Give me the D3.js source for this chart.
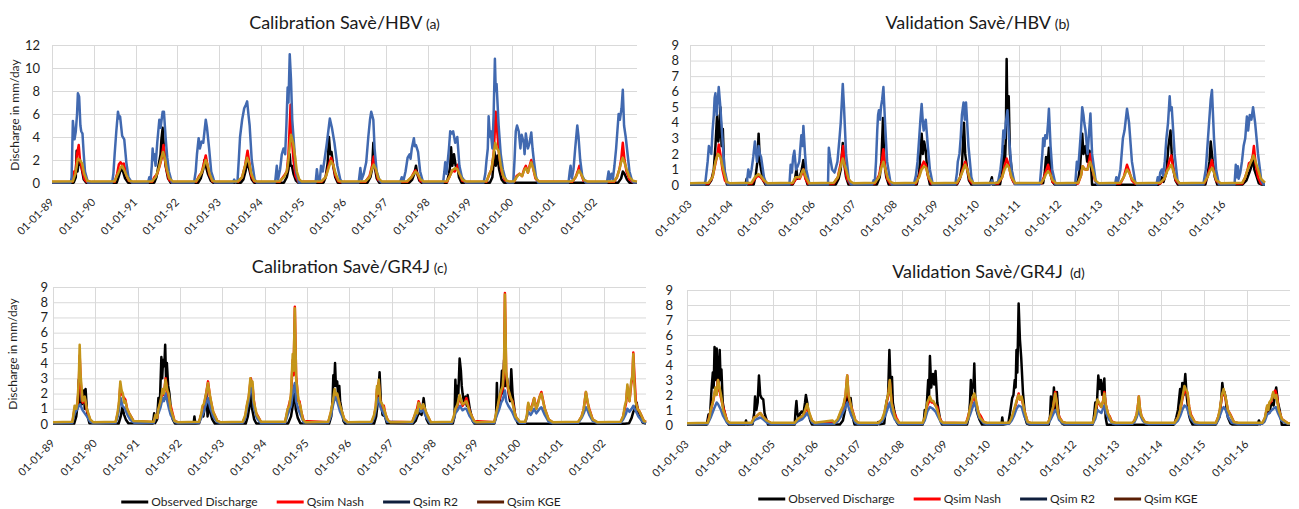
<!DOCTYPE html>
<html>
<head>
<meta charset="utf-8">
<script src="https://cdn.jsdelivr.net/npm/d3@7"></script>
<style>
  body { margin: 0; background: #fff; }
  svg text { font-family: Lato, "Open Sans", sans-serif; }
</style>
</head>
<body>
<svg id="chart" width="1299" height="509"></svg>
<script>
// ---------------- data (t = years since start of period, value in mm/day) ----------------
const calStart = 1989;
const valStart = 2003;
const calYears = [1989, 1990, 1991, 1992, 1993, 1994, 1995, 1996, 1997, 1998, 1999, 2000, 2001, 2002];
const valYears = [2003, 2004, 2005, 2006, 2007, 2008, 2009, 2010, 2011, 2012, 2013, 2014, 2015, 2016];
const seriesNames = ["Observed Discharge", "Qsim Nash", "Qsim R2", "Qsim KGE"];

// (a) HBV calibration
const hbvCalObs = [[0,.03],
[0.52,.03],[0.57,.5],[0.59,2.8],[0.61,1],[0.64,1.8],[0.70,1.5],[0.76,.3],[0.82,.03],
[1.55,.03],[1.60,.6],[1.65,1.2],[1.70,1],[1.75,.4],[1.82,.03],
[2.45,.03],[2.50,.5],[2.55,1.5],[2.60,2.5],[2.62,3.8],[2.65,4.8],[2.68,3],[2.72,1.5],[2.78,.4],[2.84,.03],
[3.50,.03],[3.56,.4],[3.62,1.2],[3.65,2],[3.68,1.5],[3.73,.8],[3.80,.2],[3.86,.03],
[4.52,.03],[4.58,.3],[4.63,1],[4.68,2],[4.72,1.2],[4.78,.3],[4.84,.03],
[5.55,.03],[5.62,.5],[5.66,1.2],[5.69,2.5],[5.71,1.5],[5.74,1.5],[5.78,.8],[5.84,.2],[5.89,.03],
[6.50,.03],[6.55,.5],[6.60,1.8],[6.63,4],[6.66,2.5],[6.69,2.7],[6.73,1.5],[6.78,.5],[6.84,.03],
[7.55,.03],[7.62,.5],[7.66,1.2],[7.69,3.5],[7.72,1.5],[7.77,.4],[7.83,.03],
[8.55,.03],[8.62,.3],[8.67,.8],[8.71,1.5],[8.74,.8],[8.79,.2],[8.84,.03],
[9.45,.03],[9.50,.8],[9.53,1.5],[9.55,3.1],[9.58,1.5],[9.62,2.5],[9.66,1.5],[9.70,1.5],[9.74,.5],[9.80,.03],
[10.48,.03],[10.54,.5],[10.59,2.7],[10.62,1.5],[10.66,2.4],[10.70,1.2],[10.76,.3],[10.82,.03],
[13.55,.03],[13.62,.4],[13.66,1],[13.70,.8],[13.76,.3],[13.82,.03],[14,.03]];

const hbvCalNash = [[0,.08],
[0.48,.1],[0.53,1],[0.56,.8],[0.60,2.5],[0.64,3.3],[0.67,2],[0.72,1.2],[0.78,.3],[0.84,.08],
[1.50,.1],[1.56,.8],[1.60,1.6],[1.64,1.8],[1.68,1.6],[1.72,1.7],[1.77,.8],[1.84,.2],[1.92,.08],
[2.40,.1],[2.45,.5],[2.52,.8],[2.58,1.5],[2.63,2.2],[2.67,3.3],[2.70,2.2],[2.74,1.2],[2.80,.3],[2.87,.08],
[3.45,.1],[3.52,.6],[3.58,.9],[3.63,1.6],[3.68,2.4],[3.72,1.6],[3.77,.7],[3.84,.15],[3.90,.08],
[4.45,.1],[4.55,.5],[4.62,1.5],[4.68,2.8],[4.72,1.8],[4.77,.6],[4.84,.15],[4.90,.08],
[5.45,.1],[5.55,.6],[5.62,1],[5.66,2.5],[5.71,6.8],[5.74,4],[5.78,2],[5.83,.6],[5.90,.1],
[6.45,.1],[6.55,.5],[6.62,1.5],[6.68,2.2],[6.73,1.6],[6.78,.7],[6.85,.15],[6.92,.08],
[7.50,.1],[7.60,.6],[7.66,1.5],[7.70,2.3],[7.74,1.3],[7.80,.3],[7.88,.08],
[8.50,.1],[8.60,.5],[8.66,.9],[8.70,1.1],[8.75,.8],[8.81,.2],[8.88,.08],
[9.45,.1],[9.52,.6],[9.58,1.1],[9.64,1],[9.68,1.3],[9.72,1.6],[9.76,.8],[9.82,.2],[9.90,.08],
[10.40,.1],[10.47,.8],[10.52,1.2],[10.57,2.5],[10.62,6.2],[10.66,4.3],[10.70,2.5],[10.76,1],[10.83,.3],[10.90,.08],
[11.06,.1],[11.12,.6],[11.19,.8],[11.25,.6],[11.30,1.2],[11.34,1.5],[11.39,.9],[11.43,1.5],[11.47,2],[11.52,1.2],[11.57,.4],[11.64,.1],
[12.45,.1],[12.53,.5],[12.58,1],[12.62,1.5],[12.66,.8],[12.72,.2],[12.80,.08],
[13.45,.1],[13.52,.5],[13.58,1.2],[13.62,2],[13.66,3.5],[13.70,2],[13.75,1],[13.82,.3],[13.90,.08],[14,.08]];

const hbvCalR2 = [[0,.05],
[0.45,.05],[0.47,.5],[0.50,5.4],[0.54,3.8],[0.57,4.5],[0.60,6],[0.62,7.8],[0.65,7.5],[0.68,5],[0.70,4.5],[0.73,4.3],[0.76,2.5],[0.79,1],[0.86,.05],
[1.44,.05],[1.47,.8],[1.50,2.5],[1.54,4.5],[1.58,6.2],[1.61,5.6],[1.63,5.8],[1.68,4.1],[1.73,3.8],[1.78,1.8],[1.83,.5],[1.91,.05],
[2.30,.05],[2.33,.5],[2.36,.2],[2.39,1.5],[2.41,3],[2.43,2],[2.45,2.5],[2.48,1.5],[2.52,3.5],[2.57,5.5],[2.60,4.8],[2.65,6.2],[2.68,6.2],[2.72,4],[2.76,2.2],[2.80,1],[2.87,.05],
[3.40,.05],[3.44,1],[3.47,2.5],[3.49,3.2],[3.51,3.9],[3.54,3],[3.58,3.6],[3.62,3.5],[3.65,4.5],[3.68,5.5],[3.71,4.8],[3.76,3],[3.81,1],[3.89,.05],
[4.33,.05],[4.36,.3],[4.39,.05],[4.44,.2],[4.47,2],[4.50,4],[4.55,5.5],[4.60,6.5],[4.64,6.8],[4.67,7.1],[4.70,6],[4.73,5],[4.78,2],[4.85,.3],[4.90,.05],
[5.34,.05],[5.38,1.5],[5.41,.3],[5.46,1.2],[5.50,2.5],[5.54,3],[5.58,2.5],[5.61,5],[5.64,8.3],[5.66,7],[5.69,11.2],[5.72,9],[5.75,5.5],[5.79,3.5],[5.84,1],[5.91,.05],
[6.31,.05],[6.34,1.2],[6.37,.3],[6.41,.2],[6.44,1.5],[6.48,1],[6.53,2.2],[6.58,3.5],[6.63,5],[6.65,5.6],[6.70,4.8],[6.76,3.5],[6.83,1.5],[6.90,.3],[6.95,.05],
[7.34,.05],[7.38,1.3],[7.41,.3],[7.46,.8],[7.52,1.8],[7.57,4],[7.61,5.5],[7.64,6.2],[7.69,5.5],[7.72,3],[7.77,1],[7.84,.2],[7.88,.05],
[8.33,.05],[8.37,.5],[8.41,.2],[8.46,1],[8.51,2.2],[8.56,2.5],[8.58,2.1],[8.61,3],[8.66,3.9],[8.68,3.2],[8.71,3.3],[8.76,2.7],[8.81,1],[8.88,.05],
[9.36,.05],[9.39,1],[9.41,1.8],[9.44,.8],[9.46,1.5],[9.50,3],[9.53,4.5],[9.57,4.3],[9.60,4.5],[9.65,3.5],[9.70,4],[9.75,1.5],[9.81,.5],[9.90,.05],
[10.33,.05],[10.37,.8],[10.40,2],[10.43,3],[10.45,5.8],[10.48,4],[10.50,4.5],[10.54,3],[10.57,6],[10.60,10.8],[10.62,8],[10.64,8.6],[10.69,5],[10.74,2.5],[10.79,1.2],[10.84,.5],[10.90,.05],
[11.04,.05],[11.07,2],[11.10,4.5],[11.13,5],[11.17,4.5],[11.21,3],[11.24,4.2],[11.29,3.5],[11.31,2.5],[11.34,4.3],[11.39,3],[11.43,3.5],[11.47,4.4],[11.50,3],[11.53,2],[11.58,.6],[11.63,.05],
[12.36,.05],[12.39,1],[12.41,1.5],[12.44,.4],[12.48,1.2],[12.52,3],[12.55,4.2],[12.57,5],[12.60,4],[12.64,2],[12.69,.6],[12.77,.05],
[13.28,.05],[13.32,1],[13.35,.3],[13.39,.8],[13.42,.3],[13.46,1.5],[13.50,3],[13.53,4.5],[13.56,6],[13.59,5.5],[13.63,6.5],[13.66,8.1],[13.69,5],[13.73,4],[13.76,3],[13.82,1],[13.88,.2],[13.92,.05],[14,.05]];

const hbvCalKge = [[0,.12],
[0.50,.15],[0.56,.8],[0.62,2.1],[0.67,2],[0.72,1.7],[0.77,.8],[0.84,.2],[0.95,.12],
[1.50,.15],[1.58,.8],[1.65,1.4],[1.68,1.5],[1.73,1.1],[1.78,.7],[1.85,.2],[1.95,.12],
[2.40,.15],[2.48,.5],[2.55,1.2],[2.62,2.2],[2.66,2.7],[2.70,2.2],[2.75,1.2],[2.81,.4],[2.90,.12],
[3.45,.15],[3.52,.5],[3.58,.9],[3.63,1.4],[3.68,2],[3.72,1.6],[3.77,.8],[3.84,.2],[3.93,.12],
[4.45,.15],[4.55,.5],[4.62,1.5],[4.67,2.2],[4.72,1.7],[4.77,.8],[4.84,.2],[4.93,.12],
[5.45,.15],[5.55,.5],[5.62,1],[5.66,2],[5.69,3.2],[5.72,4.2],[5.77,3.5],[5.81,2.5],[5.86,1],[5.92,.3],[5.98,.12],
[6.45,.15],[6.55,.5],[6.62,1.3],[6.68,1.9],[6.73,1.6],[6.79,.8],[6.86,.2],[6.95,.12],
[7.50,.15],[7.60,.5],[7.66,1.3],[7.70,1.6],[7.75,1.2],[7.81,.4],[7.90,.12],
[8.50,.15],[8.60,.5],[8.66,.8],[8.70,1],[8.75,.8],[8.82,.3],[8.90,.12],
[9.45,.15],[9.52,.6],[9.58,1.1],[9.65,1.3],[9.70,1.2],[9.75,.8],[9.82,.3],[9.92,.12],
[10.40,.15],[10.47,.8],[10.52,1.2],[10.57,2.5],[10.61,3.5],[10.65,3],[10.69,2.8],[10.74,1.5],[10.80,.6],[10.88,.2],[10.96,.12],
[11.06,.15],[11.12,.5],[11.19,.8],[11.25,.6],[11.30,1.1],[11.34,1.3],[11.39,.9],[11.43,1.4],[11.47,1.8],[11.52,1.2],[11.58,.4],[11.66,.12],
[12.45,.15],[12.53,.5],[12.58,.9],[12.61,1.1],[12.66,.8],[12.72,.3],[12.82,.12],
[13.45,.15],[13.52,.5],[13.58,1.2],[13.62,1.8],[13.66,2.2],[13.70,1.8],[13.75,1.2],[13.82,.5],[13.90,.2],[14,.12]];

// (b) HBV validation
const hbvValObs = [[0,.03],
[0.45,.03],[0.52,.3],[0.58,1],[0.62,2.5],[0.66,4.5],[0.69,2.8],[0.72,3.5],[0.74,5],[0.77,2.5],[0.80,3.6],[0.83,1.2],[0.86,.5],[0.90,.03],
[1.35,.03],[1.38,.4],[1.40,.03],[1.55,.03],[1.60,.6],[1.64,1.5],[1.67,3.3],[1.70,1.5],[1.73,1],[1.78,.3],[1.84,.03],
[2.50,.03],[2.55,.3],[2.59,1],[2.62,.4],[2.67,.5],[2.72,1],[2.76,1.6],[2.80,.6],[2.86,.03],
[3.55,.03],[3.62,.4],[3.67,1],[3.72,2.7],[3.75,1.5],[3.80,.5],[3.86,.03],
[4.55,.03],[4.62,.5],[4.66,1.5],[4.70,4.3],[4.73,1.5],[4.78,.5],[4.84,.03],
[5.52,.03],[5.58,.8],[5.61,2],[5.64,3.3],[5.67,2],[5.70,2.8],[5.74,2.2],[5.78,.8],[5.84,.03],
[6.50,.03],[6.57,.4],[6.62,1.2],[6.67,4],[6.70,2],[6.74,1.2],[6.79,.3],[6.85,.03],
[7.30,.03],[7.35,.5],[7.37,.03],[7.55,.05],[7.60,.8],[7.64,2.5],[7.67,1.5],[7.69,3],[7.71,8.1],[7.73,4],[7.76,5.7],[7.79,2],[7.86,.3],[7.90,.12],
[8.60,.12],[8.64,.8],[8.67,1.8],[8.70,1],[8.74,2.4],[8.78,.7],[8.83,.2],[8.88,.03],
[9.40,.03],[9.45,.3],[9.50,1.2],[9.55,3.3],[9.58,2],[9.63,2.5],[9.67,1.5],[9.73,2.2],[9.77,1],[9.79,.02],
[11.40,.02],[11.45,.1],[11.49,.5],[11.53,.2],[11.60,.8],[11.65,2.5],[11.70,3.5],[11.73,2],[11.77,1],[11.82,.3],[11.88,.03],
[12.55,.03],[12.60,.6],[12.65,1.5],[12.68,2.8],[12.71,2],[12.73,1.5],[12.78,.5],[12.84,.03],
[13.45,.03],[13.55,.3],[13.62,.8],[13.67,1.2],[13.71,1.9],[13.74,1],[13.79,.6],[13.85,.1],[13.92,.03],[14,.03]];

const hbvValNash = [[0,.08],
[0.45,.1],[0.55,.5],[0.62,1.4],[0.67,2],[0.70,2.6],[0.74,2],[0.79,1],[0.85,.3],[0.92,.08],
[1.50,.1],[1.58,.4],[1.65,.6],[1.72,.5],[1.78,.3],[1.86,.08],
[2.50,.1],[2.56,.3],[2.62,.5],[2.67,.4],[2.72,.7],[2.76,1],[2.81,.4],[2.88,.08],
[3.50,.1],[3.60,.5],[3.67,1.4],[3.73,2.5],[3.77,1.2],[3.82,.4],[3.90,.08],
[4.50,.1],[4.60,.6],[4.66,1.3],[4.71,2.3],[4.75,1.2],[4.80,.4],[4.88,.08],
[5.50,.1],[5.58,.6],[5.64,1.2],[5.69,1.5],[5.74,1.3],[5.80,.5],[5.88,.08],
[6.50,.1],[6.58,.5],[6.64,1],[6.70,1.5],[6.75,1],[6.81,.3],[6.88,.08],
[7.50,.1],[7.60,.5],[7.66,1.2],[7.71,1.7],[7.76,1.3],[7.82,.5],[7.90,.08],
[8.55,.1],[8.62,.5],[8.67,.9],[8.72,1.3],[8.77,.8],[8.83,.2],[8.90,.08],
[9.45,.1],[9.52,.6],[9.56,1.2],[9.62,1],[9.68,1],[9.75,2],[9.80,1],[9.86,.3],[9.92,.08],
[10.48,.1],[10.56,.5],[10.61,1],[10.64,1.3],[10.69,.9],[10.76,.3],[10.84,.08],
[11.45,.1],[11.55,.4],[11.62,1],[11.67,1.5],[11.72,1.9],[11.77,1],[11.83,.3],[11.90,.08],
[12.52,.1],[12.60,.5],[12.66,1.1],[12.71,1.6],[12.75,1],[12.81,.3],[12.88,.08],
[13.45,.1],[13.52,.5],[13.58,1],[13.61,1.4],[13.66,1.5],[13.70,1.8],[13.73,2.5],[13.77,1.4],[13.83,.5],[13.90,.1],[14,.08]];

const hbvValR2 = [[0,.05],
[0.35,.05],[0.38,.3],[0.43,1.5],[0.46,2.5],[0.48,2.3],[0.52,2],[0.55,3.5],[0.58,4.5],[0.60,5.6],[0.62,5.9],[0.65,4.5],[0.68,5.5],[0.70,6.3],[0.74,5],[0.79,3],[0.84,1],[0.92,.05],
[1.38,.05],[1.42,1],[1.46,.5],[1.50,1],[1.54,1.8],[1.58,2.8],[1.63,1.5],[1.67,2.5],[1.70,2],[1.73,1.8],[1.80,.5],[1.86,.05],
[2.42,.05],[2.45,1.3],[2.48,.8],[2.51,1.8],[2.54,2.2],[2.58,1],[2.62,1.2],[2.66,1.5],[2.71,3.2],[2.74,2.5],[2.76,3.8],[2.80,2],[2.83,1],[2.91,.05],
[3.36,.05],[3.38,2.4],[3.41,1.8],[3.43,1.5],[3.46,1],[3.52,.8],[3.56,1.2],[3.59,1.5],[3.64,3],[3.67,4],[3.70,5.5],[3.72,6.5],[3.75,5],[3.80,2],[3.87,.3],[3.92,.05],
[4.44,.05],[4.47,.3],[4.50,.2],[4.53,1.5],[4.56,3.5],[4.58,4.5],[4.60,4.8],[4.63,4.2],[4.65,5],[4.68,5.5],[4.71,6.3],[4.75,4],[4.80,1.5],[4.88,.2],[4.92,.05],
[5.45,.05],[5.50,.6],[5.54,1.5],[5.58,3],[5.61,4.2],[5.64,5.2],[5.67,4],[5.69,3.5],[5.72,4],[5.74,4.2],[5.79,2.5],[5.84,1],[5.91,.05],
[6.46,.05],[6.50,.8],[6.52,1.5],[6.56,2],[6.59,3],[6.62,4.5],[6.66,5.3],[6.69,4.2],[6.72,5.3],[6.78,2.5],[6.85,.5],[6.90,.05],
[7.32,.05],[7.35,.3],[7.38,.05],[7.50,.2],[7.56,1],[7.60,2],[7.63,3.5],[7.66,3],[7.69,4],[7.73,4.8],[7.77,3],[7.83,1],[7.91,.05],
[8.52,.05],[8.55,1],[8.58,2],[8.60,3],[8.63,2.5],[8.65,3.2],[8.69,3],[8.72,4],[8.74,4.9],[8.78,2.5],[8.82,1],[8.90,.05],
[9.38,.05],[9.42,1.5],[9.45,1],[9.48,2],[9.52,3.5],[9.55,5],[9.58,4.5],[9.60,4],[9.63,3.5],[9.68,2],[9.72,3.5],[9.75,4.6],[9.79,2],[9.88,.2],[9.92,.05],
[10.35,.05],[10.38,.5],[10.42,.2],[10.48,1],[10.54,3],[10.58,3.5],[10.61,4.2],[10.64,4.9],[10.69,4],[10.76,1.5],[10.84,.2],[10.88,.05],
[11.36,.05],[11.39,.5],[11.42,.2],[11.45,.8],[11.49,1],[11.52,.6],[11.56,1.5],[11.60,3],[11.64,4],[11.68,5.7],[11.70,4.8],[11.73,5],[11.80,2],[11.87,.3],[11.92,.05],
[12.50,.05],[12.56,1],[12.60,2.5],[12.64,4],[12.68,5.5],[12.71,6.1],[12.76,3],[12.81,1],[12.88,.05],
[13.26,.05],[13.29,1.3],[13.32,.5],[13.34,1.2],[13.36,.4],[13.40,.8],[13.44,1.5],[13.48,2.5],[13.52,3],[13.56,4.4],[13.59,3.5],[13.63,4.5],[13.67,4.2],[13.71,5],[13.76,4],[13.83,2],[13.91,.3],[13.96,.05],[14,.05]];

const hbvValKge = [[0,.12],
[0.45,.15],[0.55,.5],[0.62,1.5],[0.68,2],[0.74,1.8],[0.81,1],[0.89,.2],[0.97,.12],
[1.50,.15],[1.58,.5],[1.66,.7],[1.72,.6],[1.80,.3],[1.89,.12],
[2.50,.15],[2.57,.5],[2.63,.5],[2.68,.5],[2.72,.8],[2.76,1],[2.82,.5],[2.90,.12],
[3.50,.15],[3.60,.5],[3.67,1.2],[3.72,1.7],[3.76,1.3],[3.80,1],[3.86,.4],[3.92,.2],[3.98,.12],
[4.50,.15],[4.60,.5],[4.66,1.1],[4.71,1.5],[4.76,1],[4.82,.4],[4.88,.2],[4.96,.12],
[5.50,.15],[5.58,.5],[5.64,1],[5.70,1.2],[5.75,1.1],[5.81,.5],[5.90,.12],
[6.50,.15],[6.58,.5],[6.64,.9],[6.70,1.3],[6.75,1],[6.81,.4],[6.90,.12],
[7.50,.15],[7.60,.5],[7.66,1],[7.72,1.3],[7.77,1.1],[7.83,.5],[7.92,.12],
[8.55,.15],[8.62,.4],[8.67,.7],[8.72,.9],[8.77,.7],[8.83,.3],[8.92,.12],
[9.45,.15],[9.52,.6],[9.56,1.2],[9.62,1],[9.68,1],[9.74,1.5],[9.80,1],[9.87,.3],[9.95,.12],
[10.48,.15],[10.56,.5],[10.61,.8],[10.64,1],[10.69,.8],[10.76,.4],[10.86,.12],
[11.45,.15],[11.55,.4],[11.62,.9],[11.67,1.1],[11.72,1.3],[11.77,.9],[11.83,.4],[11.92,.12],
[12.52,.15],[12.60,.5],[12.66,.9],[12.72,1.1],[12.76,.8],[12.82,.3],[12.92,.12],
[13.45,.15],[13.52,.5],[13.58,1],[13.63,1.3],[13.68,1.6],[13.72,1.9],[13.77,1.5],[13.83,1],[13.90,.4],[14,.15]];

// (c) GR4J calibration
const gr4jCalObs = [[0,.03],
[0.50,.03],[0.55,.5],[0.59,1.5],[0.61,2.9],[0.63,1.2],[0.68,1.3],[0.73,2.2],[0.75,1],[0.77,2.3],[0.80,1],[0.82,.5],[0.86,.05],
[1.55,.03],[1.60,.5],[1.64,1.1],[1.68,.6],[1.72,.3],[1.78,.05],
[2.36,.03],[2.39,.7],[2.41,.05],[2.46,.3],[2.49,1.7],[2.52,1],[2.56,4.4],[2.58,3],[2.60,4.2],[2.63,3.8],[2.65,5.2],[2.67,3],[2.69,4],[2.72,2.5],[2.75,2],[2.79,.8],[2.83,.3],[2.88,.03],
[3.32,.03],[3.34,.5],[3.36,.03],[3.45,.05],[3.51,.7],[3.55,.5],[3.59,1.2],[3.62,2],[3.65,.5],[3.68,1.5],[3.71,.8],[3.76,.3],[3.82,.03],
[4.55,.03],[4.60,.5],[4.64,1.2],[4.67,2],[4.70,1],[4.75,.3],[4.80,.03],
[5.55,.03],[5.62,.5],[5.66,1.2],[5.70,2.5],[5.73,1],[5.78,.4],[5.84,.05],
[6.52,.03],[6.57,.5],[6.60,1.5],[6.62,3.2],[6.64,2.5],[6.66,4],[6.68,2.5],[6.71,2.8],[6.73,2],[6.76,2.5],[6.78,1.5],[6.81,1],[6.86,.2],[6.90,.03],
[7.58,.03],[7.63,.5],[7.67,1.5],[7.71,3.4],[7.74,1.5],[7.78,.6],[7.84,.5],[7.88,.05],
[8.50,.03],[8.56,.2],[8.60,.5],[8.65,.8],[8.70,.6],[8.75,1.7],[8.78,1],[8.82,.3],[8.87,.03],
[9.44,.03],[9.48,.5],[9.50,2.9],[9.52,1.2],[9.54,2.5],[9.57,2],[9.60,4.3],[9.63,3.5],[9.65,2.5],[9.67,2],[9.70,1.5],[9.74,1.8],[9.77,1.2],[9.79,1.9],[9.84,1],[9.91,.2],[9.95,.03],
[10.42,.03],[10.46,.5],[10.48,2.7],[10.50,.8],[10.55,1.5],[10.58,2.5],[10.60,3.5],[10.62,2],[10.65,4.2],[10.68,2.5],[10.72,3],[10.76,2],[10.79,1.5],[10.82,3.6],[10.85,2],[10.87,1.5],[10.91,.6],[10.95,.2],[10.98,.02],
[13.50,.02],[13.60,.05],[13.66,.4],[13.70,.8],[13.74,1],[13.78,1.4],[13.82,.6],[13.86,.5],[13.92,.1],[14,.03]];

const gr4jCalNash = [[0,.1],
[0.46,.12],[0.51,1],[0.58,1.3],[0.61,2.5],[0.63,4.5],[0.66,2.5],[0.70,1.4],[0.75,1.7],[0.80,.9],[0.88,.25],[0.95,.1],
[1.48,.12],[1.53,.7],[1.56,1.3],[1.59,2.5],[1.62,2],[1.66,1.8],[1.71,1.6],[1.75,1],[1.80,.7],[1.90,.2],
[2.38,.12],[2.42,.5],[2.46,.4],[2.49,.9],[2.54,1.4],[2.59,2.1],[2.62,1.9],[2.66,3],[2.70,2.1],[2.74,1.2],[2.78,1.2],[2.87,.2],[2.95,.1],
[3.45,.12],[3.50,.6],[3.56,1.2],[3.60,1.7],[3.66,2.8],[3.71,1.7],[3.78,.8],[3.88,.2],[3.95,.1],
[4.48,.12],[4.54,.5],[4.58,1.2],[4.62,1.7],[4.67,3],[4.71,2.5],[4.74,1.6],[4.78,.8],[4.84,.5],[4.91,.12],
[5.48,.12],[5.54,.9],[5.62,1.8],[5.66,4.2],[5.68,3.2],[5.71,7.7],[5.74,3.2],[5.79,1.5],[5.82,1.5],[5.86,.8],[5.92,.2],
[6.50,.12],[6.56,.7],[6.61,1.4],[6.66,2],[6.71,1.9],[6.78,1.1],[6.88,.3],[6.96,.1],
[7.52,.12],[7.58,.5],[7.62,1.1],[7.65,2.3],[7.69,2.7],[7.73,1.4],[7.78,1],[7.81,1.2],[7.85,.6],[7.92,.15],
[8.48,.12],[8.53,.5],[8.58,.8],[8.63,1.5],[8.68,1.1],[8.74,1.2],[8.78,.9],[8.83,.6],[8.92,.1],
[9.42,.12],[9.47,.5],[9.50,.9],[9.55,1.2],[9.60,1.8],[9.63,1.5],[9.67,1.2],[9.72,1.4],[9.76,1.7],[9.84,.8],[9.94,.2],
[10.42,.12],[10.47,.7],[10.54,1.6],[10.58,2],[10.62,2.3],[10.65,3.8],[10.67,8.6],[10.70,3.3],[10.75,2.2],[10.80,1.7],[10.85,1.5],[10.92,.5],[11.02,.12],
[11.15,.12],[11.19,.5],[11.22,1.3],[11.28,.9],[11.36,1.7],[11.41,1],[11.49,1.8],[11.53,2.1],[11.61,1],[11.70,.3],[11.80,.1],
[12.40,.12],[12.48,.5],[12.53,1],[12.58,2.1],[12.62,1.4],[12.66,1],[12.74,.3],[12.85,.1],
[13.40,.12],[13.46,.5],[13.53,1.4],[13.56,2.4],[13.61,1.5],[13.65,2.6],[13.68,3.1],[13.70,4.7],[13.73,3],[13.76,1.5],[13.80,1],[13.85,.8],[13.95,.2],[14,.12]];

const gr4jCalR2 = [[0,.06],
[0.46,.08],[0.51,.7],[0.58,1],[0.61,1.2],[0.64,1.3],[0.70,.9],[0.75,.7],[0.80,.5],[0.88,.15],[0.95,.06],
[1.48,.08],[1.53,.5],[1.56,1],[1.60,1.7],[1.64,1.2],[1.70,1],[1.76,.6],[1.82,.3],[1.92,.08],
[2.38,.08],[2.42,.4],[2.49,.7],[2.54,1.1],[2.59,1.7],[2.62,1.5],[2.66,2],[2.70,1.5],[2.74,1],[2.78,.6],[2.87,.15],[2.95,.06],
[3.45,.08],[3.50,.4],[3.56,.8],[3.60,1.2],[3.66,1.7],[3.71,1.1],[3.78,.5],[3.88,.12],[3.95,.06],
[4.48,.08],[4.54,.4],[4.58,1],[4.62,1.5],[4.67,2.5],[4.71,2],[4.74,1.1],[4.81,.4],[4.91,.06],
[5.48,.08],[5.54,.6],[5.62,1.2],[5.66,2],[5.71,2.7],[5.74,1.5],[5.80,.9],[5.86,.5],[5.92,.1],
[6.50,.08],[6.56,.5],[6.61,1.2],[6.66,1.8],[6.71,1.5],[6.78,.8],[6.88,.2],[6.96,.06],
[7.52,.08],[7.58,.4],[7.62,.9],[7.65,1.4],[7.69,1.7],[7.73,1.1],[7.80,.7],[7.89,.15],
[8.48,.08],[8.53,.3],[8.58,.6],[8.63,1],[8.68,.8],[8.74,.9],[8.80,.5],[8.90,.08],
[9.42,.08],[9.47,.4],[9.50,.7],[9.55,.9],[9.61,1.2],[9.67,.9],[9.72,1],[9.76,1],[9.84,.5],[9.94,.1],
[10.42,.08],[10.47,.5],[10.54,1],[10.58,1.4],[10.62,1.6],[10.67,2.2],[10.70,1.5],[10.75,1.2],[10.84,.8],[10.92,.3],[11.02,.08],
[11.15,.08],[11.22,.8],[11.28,.6],[11.36,1],[11.41,.7],[11.49,1],[11.53,1.1],[11.61,.6],[11.70,.15],[11.80,.06],
[12.40,.08],[12.48,.4],[12.53,.7],[12.58,1.1],[12.62,.9],[12.66,.6],[12.74,.2],[12.85,.06],
[13.40,.08],[13.46,.3],[13.53,.7],[13.56,1],[13.61,.8],[13.66,1],[13.70,1.2],[13.75,.9],[13.82,.5],[13.92,.15],[14,.06]];

const gr4jCalKge = [[0,.12],
[0.46,.15],[0.51,1.2],[0.55,1],[0.58,1.5],[0.61,3],[0.63,5.2],[0.65,3.3],[0.70,1.5],[0.75,1.8],[0.80,1],[0.88,.3],[0.95,.12],
[1.48,.15],[1.53,.8],[1.56,1.5],[1.59,2.8],[1.62,2.2],[1.65,2],[1.68,1.4],[1.71,1.5],[1.75,1],[1.80,.7],[1.90,.2],
[2.38,.15],[2.42,.6],[2.46,.4],[2.49,1],[2.54,1.5],[2.59,2.3],[2.62,2],[2.66,2.9],[2.70,2.2],[2.73,2],[2.78,1],[2.87,.2],[2.95,.12],
[3.45,.15],[3.50,.7],[3.53,1.2],[3.56,1.3],[3.60,1.8],[3.63,2.2],[3.66,2.7],[3.71,1.8],[3.78,.8],[3.88,.2],[3.95,.12],
[4.48,.15],[4.54,.6],[4.58,1.3],[4.62,1.8],[4.66,3],[4.69,2.5],[4.71,2.8],[4.74,1.5],[4.81,.6],[4.91,.15],
[5.48,.15],[5.54,1],[5.58,1.2],[5.62,2],[5.66,4.6],[5.68,3.5],[5.71,7.6],[5.74,3],[5.80,1.5],[5.84,1.2],[5.90,.3],[5.96,.12],
[6.50,.15],[6.56,.8],[6.61,1.5],[6.65,2.3],[6.68,1.9],[6.71,2],[6.75,1.5],[6.78,1.2],[6.88,.3],[6.96,.12],
[7.52,.15],[7.58,.6],[7.62,1.2],[7.65,2.5],[7.67,2],[7.69,2.9],[7.73,1.5],[7.79,1.2],[7.89,.3],[7.96,.12],
[8.48,.15],[8.53,.5],[8.57,.9],[8.60,.7],[8.63,1.4],[8.67,1.2],[8.70,1],[8.74,1.3],[8.78,1],[8.82,.7],[8.92,.12],
[9.42,.15],[9.47,.6],[9.50,1],[9.55,1.3],[9.60,1.9],[9.63,1.6],[9.67,1.3],[9.72,1.4],[9.76,1.5],[9.84,.8],[9.94,.2],[9.99,.12],
[10.42,.15],[10.47,.8],[10.50,1.2],[10.54,1.8],[10.58,2.2],[10.62,2.5],[10.65,4],[10.67,8.5],[10.70,3.4],[10.75,2.3],[10.80,1.8],[10.84,1.5],[10.92,.5],[11.02,.15],
[11.15,.15],[11.19,.6],[11.22,1.4],[11.25,1.1],[11.28,.9],[11.32,1.2],[11.36,1.7],[11.41,1],[11.45,1.3],[11.49,1.8],[11.53,2],[11.57,1.5],[11.61,1],[11.70,.3],[11.80,.12],
[12.40,.15],[12.48,.5],[12.53,1],[12.58,2.1],[12.62,1.5],[12.65,1],[12.74,.3],[12.85,.12],
[13.40,.15],[13.46,.5],[13.50,1.2],[13.53,1.5],[13.56,2.6],[13.59,2],[13.61,1.5],[13.65,2.8],[13.68,3.2],[13.70,4.6],[13.72,3],[13.75,1.5],[13.80,1],[13.85,.8],[13.95,.2],[14,.15]];

// (d) GR4J validation
const gr4jValObs = [[0,.03],
[0.46,.03],[0.50,.7],[0.53,.4],[0.57,2.4],[0.60,3.5],[0.62,2.5],[0.64,5.2],[0.66,3],[0.69,5.1],[0.72,2.3],[0.74,3.5],[0.76,5],[0.78,3],[0.80,3.7],[0.83,1.5],[0.86,1],[0.93,.2],[0.97,.03],
[1.35,.03],[1.37,.3],[1.39,.03],[1.52,.05],[1.56,.8],[1.58,1.9],[1.61,1],[1.64,1.5],[1.67,3.3],[1.70,2],[1.73,1.8],[1.77,1.7],[1.80,.8],[1.83,.5],[1.88,.03],
[2.50,.03],[2.52,1],[2.54,1.6],[2.56,.8],[2.59,.5],[2.63,.8],[2.66,.9],[2.70,.7],[2.74,1.5],[2.76,2],[2.79,1.5],[2.82,.8],[2.86,.3],[2.90,.03],
[3.55,.03],[3.62,.3],[3.67,1],[3.72,2.8],[3.75,1.5],[3.80,1.8],[3.84,.6],[3.89,.03],
[4.42,.03],[4.44,.2],[4.47,.05],[4.58,.1],[4.63,1.5],[4.67,2],[4.70,5],[4.73,2.5],[4.76,3.2],[4.78,1.5],[4.81,1],[4.87,.2],[4.91,.03],
[5.47,.03],[5.50,.3],[5.52,1],[5.54,.6],[5.57,1.5],[5.60,3],[5.62,2],[5.64,4.6],[5.67,2.5],[5.69,3],[5.71,3.4],[5.74,2.7],[5.77,3.6],[5.81,1.5],[5.88,.3],[5.92,.03],
[6.50,.03],[6.54,.5],[6.57,1.5],[6.59,3],[6.61,2],[6.62,2.7],[6.65,2.5],[6.67,4.1],[6.69,2],[6.72,1],[6.76,.6],[6.80,.3],[6.85,.03],
[7.30,.03],[7.32,.5],[7.34,.03],[7.46,.1],[7.51,1],[7.55,1.8],[7.58,2],[7.61,3],[7.63,2.5],[7.65,5],[7.67,3.5],[7.70,8.1],[7.73,5.7],[7.76,4.5],[7.80,2.2],[7.85,.5],[7.89,.1],[7.95,.03],
[8.40,.03],[8.43,.6],[8.45,1.9],[8.48,1],[8.50,1.5],[8.52,2.5],[8.55,1],[8.57,1.5],[8.59,2.2],[8.62,1],[8.64,.5],[8.71,.1],[8.75,.03],
[9.42,.03],[9.45,.6],[9.48,1.5],[9.51,1],[9.55,3.3],[9.58,2.4],[9.61,3],[9.64,2],[9.66,2.5],[9.69,3.1],[9.72,.5],[9.75,.02],
[11.30,.02],[11.33,.2],[11.36,.5],[11.40,1],[11.45,2.4],[11.47,1.5],[11.50,2.8],[11.53,2],[11.57,3.4],[11.60,2],[11.62,1.5],[11.66,.6],[11.69,.3],[11.74,.03],
[12.28,.03],[12.32,.3],[12.36,.5],[12.40,1.5],[12.43,2.8],[12.46,2],[12.48,2.2],[12.51,1.8],[12.53,1],[12.56,.5],[12.62,.1],[12.66,.03],
[13.25,.03],[13.28,.3],[13.31,.05],[13.40,.2],[13.47,1],[13.52,.8],[13.57,1.5],[13.62,1.3],[13.65,2],[13.68,2.5],[13.72,1.5],[13.76,1],[13.81,.02],[14,.02]];

const gr4jValNash = [[0,.1],
[0.48,.12],[0.55,.9],[0.63,1.9],[0.66,2.4],[0.69,2.1],[0.72,3],[0.75,2.4],[0.79,1.8],[0.84,1.2],[0.93,.3],[0.99,.12],
[1.50,.12],[1.56,.5],[1.62,.6],[1.70,.8],[1.75,.6],[1.85,.3],[1.95,.12],
[2.50,.12],[2.57,.35],[2.62,.45],[2.68,.6],[2.73,.8],[2.79,1.2],[2.83,.8],[2.90,.3],[2.97,.12],
[3.42,.12],[3.50,.35],[3.58,.9],[3.63,1.2],[3.68,1.9],[3.72,3.3],[3.75,1.9],[3.79,1.4],[3.84,1],[3.91,.3],[3.98,.12],
[4.45,.12],[4.53,.35],[4.58,.7],[4.63,1.4],[4.68,2.1],[4.71,2.9],[4.75,1.5],[4.80,.9],[4.86,.5],[4.93,.12],
[5.47,.12],[5.52,.4],[5.58,1.3],[5.64,1.7],[5.68,1.5],[5.72,1.5],[5.77,1.3],[5.81,1.2],[5.85,.6],[5.92,.15],
[6.48,.12],[6.56,.9],[6.60,1.4],[6.67,2],[6.72,1.4],[6.77,.8],[6.82,.6],[6.89,.2],[6.96,.12],
[7.48,.12],[7.54,.4],[7.59,.9],[7.64,1.4],[7.70,2.1],[7.73,1.7],[7.77,1.8],[7.83,1],[7.91,.2],[7.98,.12],
[8.38,.12],[8.45,.6],[8.50,1.1],[8.55,2.2],[8.58,1.6],[8.61,.9],[8.65,.5],[8.72,.2],[8.80,.12],
[9.42,.12],[9.47,.5],[9.50,1.1],[9.53,1.6],[9.57,1.4],[9.62,1.2],[9.66,1.6],[9.69,2.2],[9.72,1.4],[9.78,.7],[9.81,.6],[9.86,.25],[9.95,.12],
[10.34,.12],[10.39,.3],[10.44,.7],[10.47,1.3],[10.49,1.9],[10.52,1],[10.55,.6],[10.63,.2],[10.72,.12],
[11.32,.12],[11.40,.5],[11.45,.9],[11.50,1.7],[11.55,2.3],[11.58,2.2],[11.62,2.1],[11.66,1.2],[11.70,.7],[11.79,.2],[11.88,.12],
[12.28,.12],[12.33,.5],[12.37,.9],[12.42,1.9],[12.46,2.3],[12.51,1.7],[12.56,1],[12.61,.75],[12.70,.2],[12.80,.12],
[13.36,.12],[13.42,.45],[13.47,1.2],[13.52,1.4],[13.57,1.6],[13.61,2.1],[13.66,2.3],[13.70,1.9],[13.74,1],[13.81,.4],[13.95,.12],[14,.1]];

const gr4jValR2 = [[0,.06],
[0.48,.08],[0.55,.5],[0.63,1.1],[0.69,1.5],[0.72,1.4],[0.79,1],[0.84,.6],[0.93,.15],[0.99,.08],
[1.50,.08],[1.56,.3],[1.62,.4],[1.70,.5],[1.76,.4],[1.86,.15],[1.95,.06],
[2.50,.08],[2.57,.25],[2.68,.4],[2.74,.6],[2.79,.8],[2.84,.5],[2.91,.15],[2.97,.06],
[3.42,.08],[3.50,.25],[3.58,.6],[3.65,1],[3.72,1.5],[3.76,1.1],[3.82,.6],[3.91,.15],[3.98,.06],
[4.45,.08],[4.53,.25],[4.60,.6],[4.66,1.1],[4.71,1.5],[4.75,.9],[4.83,.35],[4.92,.06],
[5.47,.08],[5.52,.3],[5.58,.9],[5.64,1.2],[5.70,1.1],[5.77,.9],[5.82,.6],[5.90,.15],[5.96,.06],
[6.48,.08],[6.56,.6],[6.62,1.1],[6.67,1.5],[6.72,1.1],[6.78,.5],[6.89,.12],[6.96,.06],
[7.48,.08],[7.54,.3],[7.59,.6],[7.64,1],[7.70,1.3],[7.77,1.2],[7.83,.6],[7.91,.12],[7.98,.06],
[8.38,.08],[8.45,.4],[8.50,.7],[8.55,1],[8.59,.8],[8.64,.35],[8.72,.12],[8.80,.06],
[9.42,.08],[9.48,.4],[9.53,1],[9.57,.9],[9.62,.8],[9.69,1.3],[9.73,.8],[9.80,.35],[9.88,.1],[9.95,.06],
[10.34,.08],[10.39,.2],[10.44,.5],[10.49,1],[10.53,.6],[10.58,.3],[10.65,.1],[10.72,.06],
[11.32,.08],[11.40,.3],[11.45,.6],[11.50,1],[11.55,1.3],[11.60,1.2],[11.65,.8],[11.70,.4],[11.79,.1],[11.88,.06],
[12.28,.08],[12.33,.3],[12.37,.6],[12.42,1],[12.46,1.2],[12.51,1],[12.57,.5],[12.65,.15],[12.80,.06],
[13.36,.08],[13.42,.3],[13.47,.7],[13.52,.8],[13.58,1],[13.62,1.1],[13.67,1.2],[13.72,.8],[13.80,.3],[13.95,.08],[14,.06]];

const gr4jValKge = [[0,.12],
[0.48,.15],[0.52,.5],[0.55,1],[0.60,1.5],[0.63,2],[0.66,2.5],[0.69,2],[0.72,3],[0.75,2.6],[0.79,2],[0.84,1],[0.93,.3],[0.99,.15],
[1.50,.15],[1.56,.5],[1.62,.6],[1.67,.75],[1.70,.8],[1.75,.6],[1.85,.3],[1.95,.15],
[2.50,.15],[2.57,.4],[2.62,.5],[2.68,.6],[2.73,.9],[2.79,1.4],[2.83,.9],[2.90,.3],[2.97,.15],
[3.38,.3],[3.42,.15],[3.50,.4],[3.58,1],[3.63,1.3],[3.68,2],[3.72,3.3],[3.75,2],[3.79,1.5],[3.83,1],[3.91,.3],[3.98,.15],
[4.45,.15],[4.53,.4],[4.58,.8],[4.63,1.5],[4.68,2.2],[4.71,3],[4.75,1.5],[4.79,1],[4.83,.5],[4.92,.15],
[5.47,.15],[5.52,.5],[5.58,1.5],[5.61,1.7],[5.64,1.9],[5.68,1.6],[5.72,1.6],[5.77,1.3],[5.81,1],[5.88,.3],[5.95,.15],
[6.48,.15],[6.53,.5],[6.56,1],[6.60,1.5],[6.64,1.9],[6.67,2.1],[6.70,1.8],[6.72,1.5],[6.76,.9],[6.80,.5],[6.89,.2],[6.96,.15],
[7.48,.15],[7.54,.5],[7.59,1],[7.64,1.5],[7.70,2],[7.73,1.7],[7.77,1.9],[7.83,1],[7.91,.2],[7.98,.15],
[8.38,.15],[8.42,.4],[8.45,.7],[8.50,1.2],[8.55,2.1],[8.58,1.6],[8.61,.9],[8.64,.5],[8.72,.2],[8.80,.15],
[9.42,.15],[9.47,.6],[9.50,1.2],[9.53,1.7],[9.57,1.5],[9.62,1.2],[9.66,1.6],[9.69,2.1],[9.72,1.4],[9.77,.8],[9.86,.2],[9.95,.15],
[10.34,.15],[10.39,.3],[10.44,.7],[10.47,1.3],[10.49,1.9],[10.52,1],[10.55,.6],[10.63,.2],[10.72,.15],
[11.32,.15],[11.40,.5],[11.45,1],[11.50,1.8],[11.55,2.6],[11.58,2.4],[11.62,2.2],[11.66,1.2],[11.69,.7],[11.79,.2],[11.88,.15],
[12.28,.15],[12.33,.5],[12.37,1],[12.42,2],[12.46,2.4],[12.51,1.8],[12.56,1],[12.61,.7],[12.70,.2],[12.80,.15],
[13.36,.15],[13.42,.5],[13.47,1.3],[13.50,1],[13.52,1.5],[13.57,1.7],[13.61,2.2],[13.65,1.8],[13.68,2],[13.74,1],[13.81,.4],[13.95,.12],[14,.12]];

// ---------------- layout ----------------
const lineColors = ["#000000", "#ff0000", "#4169b0", "#c4951a"];   // colours seen in the plots
const legendColors = ["#000000", "#ff0000", "#0f1f3d", "#5a1e04"]; // colours shown in the legend

const panels = [
  { title: "Calibration Savè/HBV", tag: " (a)", years: calYears, start: calStart,
    series: [hbvCalObs, hbvCalNash, hbvCalR2, hbvCalKge],
    x0: 52, x1: 637, yTop: 45, yBot: 183, ymax: 12, ystep: 2, labelRight: 40, titleY: 29,
    yTitle: { x: 15, y: 115 } },
  { title: "Validation Savè/HBV", tag: " (b)", years: valYears, start: valStart,
    series: [hbvValObs, hbvValNash, hbvValR2, hbvValKge],
    x0: 690, x1: 1265, yTop: 45, yBot: 185, ymax: 9, ystep: 1, labelRight: 679, titleY: 29 },
  { title: "Calibration Savè/GR4J", tag: " (c)", years: calYears, start: calStart,
    series: [gr4jCalObs, gr4jCalNash, gr4jCalR2, gr4jCalKge],
    x0: 53, x1: 646, yTop: 287, yBot: 424, ymax: 9, ystep: 1, labelRight: 48, titleY: 273,
    yTitle: { x: 13, y: 354 }, legend: { cx: 341, y: 502 } },
  { title: "Validation Savè/GR4J", tag: "  (d)", years: valYears, start: valStart,
    series: [gr4jValObs, gr4jValNash, gr4jValR2, gr4jValKge],
    x0: 687, x1: 1290, yTop: 290, yBot: 425, ymax: 9, ystep: 1, labelRight: 673, titleY: 278,
    legend: { cx: 978, y: 499 } }
];

const svg = d3.select("#chart");

// t = years since start (fractional) -> Date
function toDate(start, t) {
  const k = Math.floor(t);
  const a = Date.UTC(start + k, 0, 1), b = Date.UTC(start + k + 1, 0, 1);
  return new Date(a + (t - k) * (b - a));
}

panels.forEach(drawPanel);

function drawPanel(p) {
  const g = svg.append("g");
  const x = d3.scaleUtc()
    .domain([toDate(p.start, 0), toDate(p.start, 14)])
    .range([p.x0, p.x1]);
  const y = d3.scaleLinear().domain([0, p.ymax]).range([p.yBot, p.yTop]);
  const yTicks = d3.range(0, p.ymax + 0.001, p.ystep);
  const xTicks = p.years.map(yr => new Date(Date.UTC(yr, 0, 1)));

  // gridlines
  g.append("g").selectAll("line").data(yTicks).enter().append("line")
    .attr("x1", p.x0).attr("x2", p.x1)
    .attr("y1", d => y(d) + 0.5).attr("y2", d => y(d) + 0.5)
    .attr("stroke", "#d9d9d9").attr("stroke-width", 1);
  g.append("g").selectAll("line").data(xTicks).enter().append("line")
    .attr("x1", d => Math.round(x(d)) + 0.5).attr("x2", d => Math.round(x(d)) + 0.5)
    .attr("y1", p.yTop).attr("y2", p.yBot)
    .attr("stroke", "#d9d9d9").attr("stroke-width", 1);

  // y axis labels
  const yAxis = g.append("g")
    .attr("transform", "translate(" + p.labelRight + ",0)")
    .call(d3.axisLeft(y).tickValues(yTicks).tickSize(0).tickPadding(0).tickFormat(d3.format("d")));
  yAxis.select(".domain").remove();
  yAxis.selectAll("text").attr("font-size", 13).attr("fill", "#1f1f1f");

  // x axis labels, rotated
  const xAxis = g.append("g")
    .attr("transform", "translate(0," + p.yBot + ")")
    .call(d3.axisBottom(x).tickValues(xTicks).tickSize(0).tickFormat(d3.utcFormat("%d-%m-%y")));
  xAxis.select(".domain").remove();
  xAxis.selectAll("text")
    .attr("y", 0).attr("dy", 0)
    .attr("transform", "translate(2,20) rotate(-45)")
    .style("text-anchor", "end")
    .attr("font-size", 11).attr("fill", "#1f1f1f");

  // series lines: observed, Nash, R2, KGE (KGE drawn last, on top)
  const line = d3.line()
    .x(d => x(toDate(p.start, d[0])))
    .y(d => y(d[1]));
  p.series.forEach((s, i) => {
    g.append("path")
      .datum(s)
      .attr("d", line)
      .attr("fill", "none")
      .attr("stroke", lineColors[i])
      .attr("stroke-width", 2.5)
      .attr("stroke-linejoin", "round");
  });

  // title
  const t = g.append("text")
    .attr("x", (p.x0 + p.x1) / 2).attr("y", p.titleY)
    .attr("text-anchor", "middle").attr("fill", "#1a1a1a");
  t.append("tspan").attr("font-size", 18).text(p.title);
  t.append("tspan").attr("font-size", 14).style("white-space", "pre").text(p.tag);

  if (p.yTitle) {
    g.append("text")
      .attr("transform", "translate(" + p.yTitle.x + "," + p.yTitle.y + ") rotate(-90)")
      .attr("text-anchor", "middle").attr("dy", "0.35em")
      .attr("font-size", 12).attr("fill", "#1f1f1f")
      .text("Discharge in mm/day");
  }

  if (p.legend) drawLegend(p.legend);
}

function drawLegend(pos) {
  const LINE_W = 27, TEXT_GAP = 3, ITEM_GAP = 19;
  const lg = svg.append("g");
  const items = lg.selectAll("g").data(seriesNames).enter().append("g");
  items.append("line")
    .attr("x1", 0).attr("x2", LINE_W).attr("y1", 0).attr("y2", 0)
    .attr("stroke", (d, i) => legendColors[i]).attr("stroke-width", 3);
  items.append("text")
    .attr("x", LINE_W + TEXT_GAP).attr("dy", "0.35em")
    .attr("font-size", 12).attr("fill", "#1f1f1f")
    .text(d => d);
  const widths = [];
  items.each(function() {
    widths.push(LINE_W + TEXT_GAP + d3.select(this).select("text").node().getComputedTextLength());
  });
  const total = d3.sum(widths) + ITEM_GAP * (widths.length - 1);
  let cur = pos.cx - total / 2;
  items.attr("transform", (d, i) => {
    const tr = "translate(" + cur + "," + pos.y + ")";
    cur += widths[i] + ITEM_GAP;
    return tr;
  });
}
</script>
</body>
</html>
